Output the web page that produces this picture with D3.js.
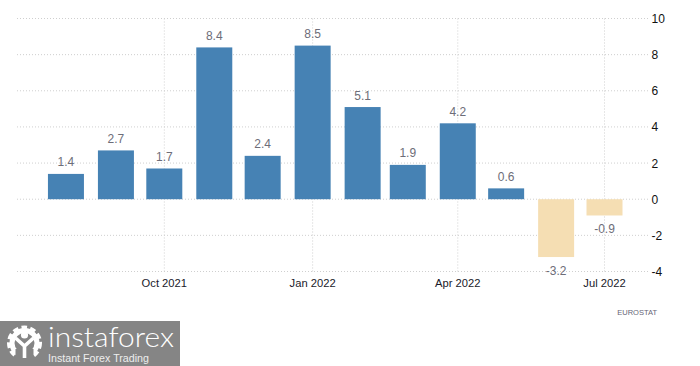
<!DOCTYPE html>
<html>
<head>
<meta charset="utf-8">
<script src="https://cdn.jsdelivr.net/npm/d3@7/dist/d3.min.js"></script>
<style>
  html, body { margin: 0; padding: 0; background: #fff; }
  svg { display: block; }
  text { font-family: "Liberation Sans", Arial, sans-serif; }
</style>
</head>
<body>
<svg id="chart" width="700" height="366"></svg>
<script>
const months = ["2021-08-01", "2021-09-01", "2021-10-01", "2021-11-01", "2021-12-01", "2022-01-01",
                "2022-02-01", "2022-03-01", "2022-04-01", "2022-05-01", "2022-06-01", "2022-07-01"];
const values = [1.4, 2.7, 1.7, 8.4, 2.4, 8.5, 5.1, 1.9, 4.2, 0.6, -3.2, -0.9];
const yTicks = [10, 8, 6, 4, 2, 0, -2, -4];
const xTicks = ["2021-10-01", "2022-01-01", "2022-04-01", "2022-07-01"];

const parseDate = d3.utcParse("%Y-%m-%d");
const svg = d3.select("#chart");

const x = d3.scaleUtc()
  .domain([parseDate(xTicks[0]), parseDate(xTicks[3])])
  .range([164.3, 604.5]);
const y = d3.scaleLinear().domain([-4, 10]).range([271.5, 18.5]);

const gridLeft = 17, gridRight = 649, barWidth = 36;

// horizontal grid
svg.append("g").selectAll("line").data(yTicks).join("line")
  .attr("x1", gridLeft).attr("x2", gridRight)
  .attr("y1", d => y(d)).attr("y2", d => y(d))
  .attr("stroke", "#cfcfcf").attr("stroke-dasharray", "1,2");

// vertical grid
svg.append("g").selectAll("line").data(xTicks).join("line")
  .attr("x1", d => x(parseDate(d))).attr("x2", d => x(parseDate(d)))
  .attr("y1", 18.5).attr("y2", 273)
  .attr("stroke", "#cfcfcf").attr("stroke-dasharray", "1,2");

// bars
svg.append("g").selectAll("rect").data(values).join("rect")
  .attr("x", (d, i) => x(parseDate(months[i])) - barWidth / 2)
  .attr("width", barWidth)
  .attr("y", d => y(Math.max(d, 0)))
  .attr("height", d => Math.abs(y(d) - y(0)))
  .attr("fill", d => d < 0 ? "#f5deb3" : "#4682b4");

// value labels
svg.append("g").selectAll("text").data(values).join("text")
  .attr("x", (d, i) => x(parseDate(months[i])))
  .attr("y", d => d < 0 ? y(d) + 17.5 : y(d) - 7.5)
  .attr("text-anchor", "middle")
  .attr("font-size", 12)
  .attr("fill", "#6d6d78")
  .text(d => d);

// axes labels
svg.append("g").selectAll("text").data(yTicks).join("text")
  .attr("x", 651.5).attr("y", d => y(d) + 4.5)
  .attr("font-size", 12).attr("fill", "#111")
  .text(d => d);

svg.append("g").selectAll("text").data(xTicks).join("text")
  .attr("x", d => x(parseDate(d))).attr("y", 287)
  .attr("text-anchor", "middle")
  .attr("font-size", 11.2).attr("fill", "#1a1a2a")
  .text(d => d3.utcFormat("%b %Y")(parseDate(d)));

svg.append("text").attr("x", 657).attr("y", 315)
  .attr("text-anchor", "end").attr("font-size", 7.5).attr("fill", "#667")
  .text("EUROSTAT");

// logo
const logo = svg.append("g");
logo.append("rect").attr("x", 0).attr("y", 321).attr("width", 180).attr("height", 45).attr("fill", "#858585");
logo.append("text").attr("x", 48).attr("y", 347)
  .attr("font-size", 28).attr("fill", "#fff")
  .style("font-family", "Lato, sans-serif").style("font-weight", 300)
  .attr("textLength", 126).attr("lengthAdjust", "spacingAndGlyphs")
  .text("instaforex");
logo.append("text").attr("x", 48).attr("y", 362)
  .attr("font-size", 10).attr("fill", "#eee")
  .attr("textLength", 101).attr("lengthAdjust", "spacingAndGlyphs")
  .text("Instant Forex Trading");

// gear
const gear = logo.append("g").attr("transform", "translate(24.5,343)");
gear.append("circle").attr("r", 12.5)
  .attr("fill", "none").attr("stroke", "#fff").attr("stroke-width", 5);
gear.append("circle").attr("r", 15.5)
  .attr("fill", "none").attr("stroke", "#fff").attr("stroke-width", 4)
  .attr("stroke-dasharray", "5.5,3.2");
gear.append("rect").attr("x", -9).attr("y", 6).attr("width", 18).attr("height", 13).attr("fill", "#858585");
gear.append("circle").attr("cy", -8).attr("r", 3.6).attr("fill", "#fff");
gear.append("path").attr("d", "M-9,-5 L0,3 L9,-5 M0,3 V15")
  .attr("fill", "none").attr("stroke", "#fff").attr("stroke-width", 3.6);
</script>
</body>
</html>
